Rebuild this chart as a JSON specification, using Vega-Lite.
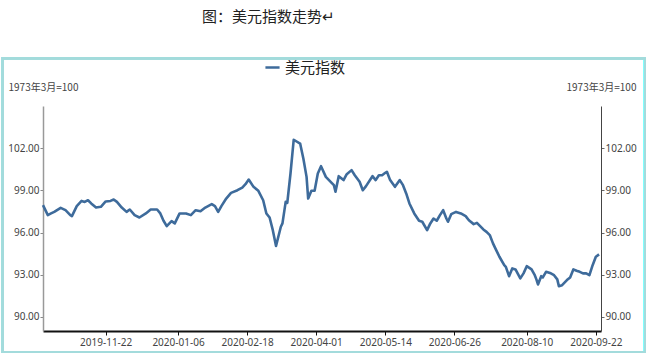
{
  "$schema": "https://vega.github.io/schema/vega-lite/v6.json",
  "width": 558,
  "height": 225,
  "autosize": {"type": "none"},
  "padding": {"left": 43, "top": 106, "right": 51, "bottom": 29},
  "background": "#ffffff",
  "title": {
    "text": "图：美元指数走势↵",
    "anchor": "start",
    "frame": "group",
    "dx": 159,
    "offset": 20,
    "baseline": "alphabetic",
    "font": "Noto Sans CJK SC",
    "fontSize": 15,
    "fontWeight": "normal",
    "color": "#222222"
  },
  "config": {
    "view": {"stroke": null},
    "font": "Noto Sans"
  },
  "data": {
    "values": [
      {"date": "2019-10-14", "value": 97.95},
      {"date": "2019-10-17", "value": 97.24},
      {"date": "2019-10-19", "value": 97.36},
      {"date": "2019-10-21", "value": 97.47},
      {"date": "2019-10-25", "value": 97.76},
      {"date": "2019-10-28", "value": 97.59},
      {"date": "2019-10-31", "value": 97.24},
      {"date": "2019-11-01", "value": 97.17},
      {"date": "2019-11-04", "value": 97.88},
      {"date": "2019-11-07", "value": 98.25},
      {"date": "2019-11-09", "value": 98.18},
      {"date": "2019-11-11", "value": 98.30},
      {"date": "2019-11-13", "value": 98.07},
      {"date": "2019-11-16", "value": 97.78},
      {"date": "2019-11-19", "value": 97.83},
      {"date": "2019-11-22", "value": 98.21},
      {"date": "2019-11-25", "value": 98.25},
      {"date": "2019-11-27", "value": 98.35},
      {"date": "2019-11-29", "value": 98.18},
      {"date": "2019-12-02", "value": 97.78},
      {"date": "2019-12-05", "value": 97.47},
      {"date": "2019-12-07", "value": 97.64},
      {"date": "2019-12-10", "value": 97.24},
      {"date": "2019-12-13", "value": 97.07},
      {"date": "2019-12-17", "value": 97.36},
      {"date": "2019-12-20", "value": 97.64},
      {"date": "2019-12-24", "value": 97.64},
      {"date": "2019-12-26", "value": 97.36},
      {"date": "2019-12-28", "value": 96.84},
      {"date": "2019-12-30", "value": 96.46},
      {"date": "2020-01-02", "value": 96.81},
      {"date": "2020-01-04", "value": 96.65},
      {"date": "2020-01-07", "value": 97.36},
      {"date": "2020-01-11", "value": 97.36},
      {"date": "2020-01-14", "value": 97.24},
      {"date": "2020-01-17", "value": 97.59},
      {"date": "2020-01-20", "value": 97.52},
      {"date": "2020-01-23", "value": 97.78},
      {"date": "2020-01-27", "value": 98.02},
      {"date": "2020-01-29", "value": 97.88},
      {"date": "2020-01-31", "value": 97.47},
      {"date": "2020-02-02", "value": 97.88},
      {"date": "2020-02-05", "value": 98.42},
      {"date": "2020-02-08", "value": 98.82},
      {"date": "2020-02-12", "value": 99.01},
      {"date": "2020-02-15", "value": 99.20},
      {"date": "2020-02-17", "value": 99.44},
      {"date": "2020-02-19", "value": 99.77},
      {"date": "2020-02-22", "value": 99.25},
      {"date": "2020-02-25", "value": 98.97},
      {"date": "2020-02-28", "value": 98.30},
      {"date": "2020-03-01", "value": 97.36},
      {"date": "2020-03-03", "value": 97.07},
      {"date": "2020-03-05", "value": 96.17},
      {"date": "2020-03-07", "value": 95.05},
      {"date": "2020-03-10", "value": 96.41},
      {"date": "2020-03-11", "value": 96.65},
      {"date": "2020-03-13", "value": 98.18},
      {"date": "2020-03-14", "value": 98.11},
      {"date": "2020-03-16", "value": 100.20},
      {"date": "2020-03-18", "value": 102.60},
      {"date": "2020-03-22", "value": 102.33},
      {"date": "2020-03-24", "value": 101.27},
      {"date": "2020-03-26", "value": 99.96},
      {"date": "2020-03-27", "value": 98.42},
      {"date": "2020-03-29", "value": 98.97},
      {"date": "2020-03-31", "value": 98.97},
      {"date": "2020-04-02", "value": 100.20},
      {"date": "2020-04-04", "value": 100.72},
      {"date": "2020-04-07", "value": 99.96},
      {"date": "2020-04-10", "value": 99.61},
      {"date": "2020-04-12", "value": 99.37},
      {"date": "2020-04-13", "value": 98.90},
      {"date": "2020-04-15", "value": 100.01},
      {"date": "2020-04-18", "value": 99.73},
      {"date": "2020-04-20", "value": 100.15},
      {"date": "2020-04-23", "value": 100.44},
      {"date": "2020-04-25", "value": 100.08},
      {"date": "2020-04-28", "value": 99.61},
      {"date": "2020-04-30", "value": 99.01},
      {"date": "2020-05-02", "value": 99.30},
      {"date": "2020-05-06", "value": 100.01},
      {"date": "2020-05-08", "value": 99.73},
      {"date": "2020-05-10", "value": 100.08},
      {"date": "2020-05-12", "value": 100.08},
      {"date": "2020-05-14", "value": 100.25},
      {"date": "2020-05-15", "value": 100.32},
      {"date": "2020-05-17", "value": 99.73},
      {"date": "2020-05-20", "value": 99.25},
      {"date": "2020-05-23", "value": 99.73},
      {"date": "2020-05-25", "value": 99.37},
      {"date": "2020-05-27", "value": 98.78},
      {"date": "2020-05-29", "value": 98.07},
      {"date": "2020-06-01", "value": 97.36},
      {"date": "2020-06-04", "value": 96.84},
      {"date": "2020-06-06", "value": 96.77},
      {"date": "2020-06-09", "value": 96.17},
      {"date": "2020-06-11", "value": 96.65},
      {"date": "2020-06-13", "value": 97.00},
      {"date": "2020-06-15", "value": 96.84},
      {"date": "2020-06-17", "value": 97.24},
      {"date": "2020-06-19", "value": 97.59},
      {"date": "2020-06-21", "value": 97.00},
      {"date": "2020-06-22", "value": 96.77},
      {"date": "2020-06-24", "value": 97.31},
      {"date": "2020-06-27", "value": 97.47},
      {"date": "2020-06-30", "value": 97.36},
      {"date": "2020-07-03", "value": 97.17},
      {"date": "2020-07-05", "value": 96.88},
      {"date": "2020-07-08", "value": 96.60},
      {"date": "2020-07-10", "value": 96.69},
      {"date": "2020-07-12", "value": 96.46},
      {"date": "2020-07-14", "value": 96.22},
      {"date": "2020-07-16", "value": 96.05},
      {"date": "2020-07-18", "value": 95.82},
      {"date": "2020-07-20", "value": 95.23},
      {"date": "2020-07-22", "value": 94.75},
      {"date": "2020-07-24", "value": 94.28},
      {"date": "2020-07-27", "value": 93.68},
      {"date": "2020-07-28", "value": 93.56},
      {"date": "2020-07-30", "value": 92.90},
      {"date": "2020-08-01", "value": 93.45},
      {"date": "2020-08-03", "value": 93.38},
      {"date": "2020-08-06", "value": 92.74},
      {"date": "2020-08-08", "value": 93.10},
      {"date": "2020-08-10", "value": 93.61},
      {"date": "2020-08-13", "value": 93.38},
      {"date": "2020-08-15", "value": 92.97},
      {"date": "2020-08-16", "value": 92.67},
      {"date": "2020-08-17", "value": 92.31},
      {"date": "2020-08-19", "value": 92.90},
      {"date": "2020-08-20", "value": 92.81},
      {"date": "2020-08-22", "value": 93.21},
      {"date": "2020-08-25", "value": 93.10},
      {"date": "2020-08-27", "value": 92.97},
      {"date": "2020-08-29", "value": 92.67},
      {"date": "2020-08-30", "value": 92.19},
      {"date": "2020-09-01", "value": 92.26},
      {"date": "2020-09-04", "value": 92.62},
      {"date": "2020-09-06", "value": 92.81},
      {"date": "2020-09-08", "value": 93.38},
      {"date": "2020-09-10", "value": 93.28},
      {"date": "2020-09-12", "value": 93.21},
      {"date": "2020-09-14", "value": 93.10},
      {"date": "2020-09-16", "value": 93.10},
      {"date": "2020-09-18", "value": 92.97},
      {"date": "2020-09-20", "value": 93.68},
      {"date": "2020-09-22", "value": 94.28},
      {"date": "2020-09-24", "value": 94.45}
    ]
  },
  "layer": [
    {
      "mark": {"type": "rect", "fill": "transparent", "stroke": "#a3dbdc", "strokeWidth": 2, "clip": false},
      "encoding": {
        "x": {"datum": {"year": 2019, "month": 9, "date": 19, "utc": true}, "type": "temporal", "axis": null},
        "x2": {"datum": {"year": 2020, "month": 10, "date": 22, "hours": 14, "utc": true}},
        "y": {"datum": 108.4, "type": "quantitative", "axis": null},
        "y2": {"datum": 87.5}
      }
    },
    {
      "mark": {"type": "line", "strokeWidth": 2.6, "strokeJoin": "round", "clip": false},
      "encoding": {
        "x": {
          "field": "date",
          "type": "temporal",
          "scale": {
            "type": "utc",
            "domain": [
              {"year": 2019, "month": 10, "date": 14, "utc": true},
              {"year": 2020, "month": 9, "date": 25, "hours": 5, "utc": true}
            ]
          },
          "axis": {
            "values": [
              {"year": 2019, "month": 11, "date": 22, "utc": true},
              {"year": 2020, "month": 1, "date": 6, "utc": true},
              {"year": 2020, "month": 2, "date": 18, "utc": true},
              {"year": 2020, "month": 4, "date": 1, "utc": true},
              {"year": 2020, "month": 5, "date": 14, "utc": true},
              {"year": 2020, "month": 6, "date": 26, "utc": true},
              {"year": 2020, "month": 8, "date": 10, "utc": true},
              {"year": 2020, "month": 9, "date": 22, "utc": true}
            ],
            "labelExpr": "utcFormat(datum.value, '%Y-%m-%d')",
            "title": null,
            "grid": false,
            "domainColor": "#111111",
            "domainWidth": 2,
            "tickColor": "#111111",
            "tickSize": 4,
            "labelColor": "#444444",
            "labelFontSize": 10,
            "labelFont": "Noto Sans",
            "labelPadding": 2,
            "labelFlush": false
          }
        },
        "y": {
          "field": "value",
          "type": "quantitative",
          "scale": {"domain": [89, 105], "nice": false, "zero": false},
          "axis": {
            "orient": "left",
            "values": [90, 93, 96, 99, 102],
            "format": ".2f",
            "grid": false,
            "title": "1973年3月=100",
            "titleAngle": 0,
            "titleAlign": "left",
            "titleBaseline": "middle",
            "titleX": -35,
            "titleY": -19,
            "titleFont": "Noto Sans CJK SC",
            "titleFontSize": 10,
            "titleFontWeight": "normal",
            "titleColor": "#444444",
            "labelColor": "#444444",
            "labelFontSize": 10,
            "labelFont": "Noto Sans",
            "labelPadding": 1,
            "tickSize": 3,
            "tickColor": "#888888",
            "domainColor": "#999999",
            "domainWidth": 1.5
          }
        },
        "color": {
          "datum": "美元指数",
          "type": "nominal",
          "scale": {"range": ["#3e6b9b"]},
          "legend": {
            "orient": "none",
            "legendX": 221,
            "legendY": -47,
            "title": null,
            "symbolType": "stroke",
            "symbolStrokeWidth": 2.5,
            "symbolSize": 200,
            "labelFont": "Noto Sans CJK SC",
            "labelFontSize": 15,
            "labelColor": "#222222",
            "labelOffset": 4,
            "padding": 0
          }
        }
      }
    },
    {
      "mark": {"type": "line", "strokeOpacity": 0, "clip": false},
      "encoding": {
        "x": {"field": "date", "type": "temporal", "axis": null},
        "y": {
          "field": "value",
          "type": "quantitative",
          "axis": {
            "orient": "right",
            "values": [90, 93, 96, 99, 102],
            "format": ".2f",
            "grid": false,
            "title": "1973年3月=100",
            "titleAngle": 0,
            "titleAlign": "left",
            "titleBaseline": "middle",
            "titleX": -35,
            "titleY": -19,
            "titleFont": "Noto Sans CJK SC",
            "titleFontSize": 10,
            "titleFontWeight": "normal",
            "titleColor": "#444444",
            "labelColor": "#444444",
            "labelFontSize": 10,
            "labelFont": "Noto Sans",
            "labelPadding": 1,
            "tickSize": 3,
            "tickColor": "#666666",
            "domainColor": "#444444",
            "domainWidth": 1
          }
        }
      }
    }
  ],
  "resolve": {"axis": {"y": "independent", "x": "independent"}}
}
